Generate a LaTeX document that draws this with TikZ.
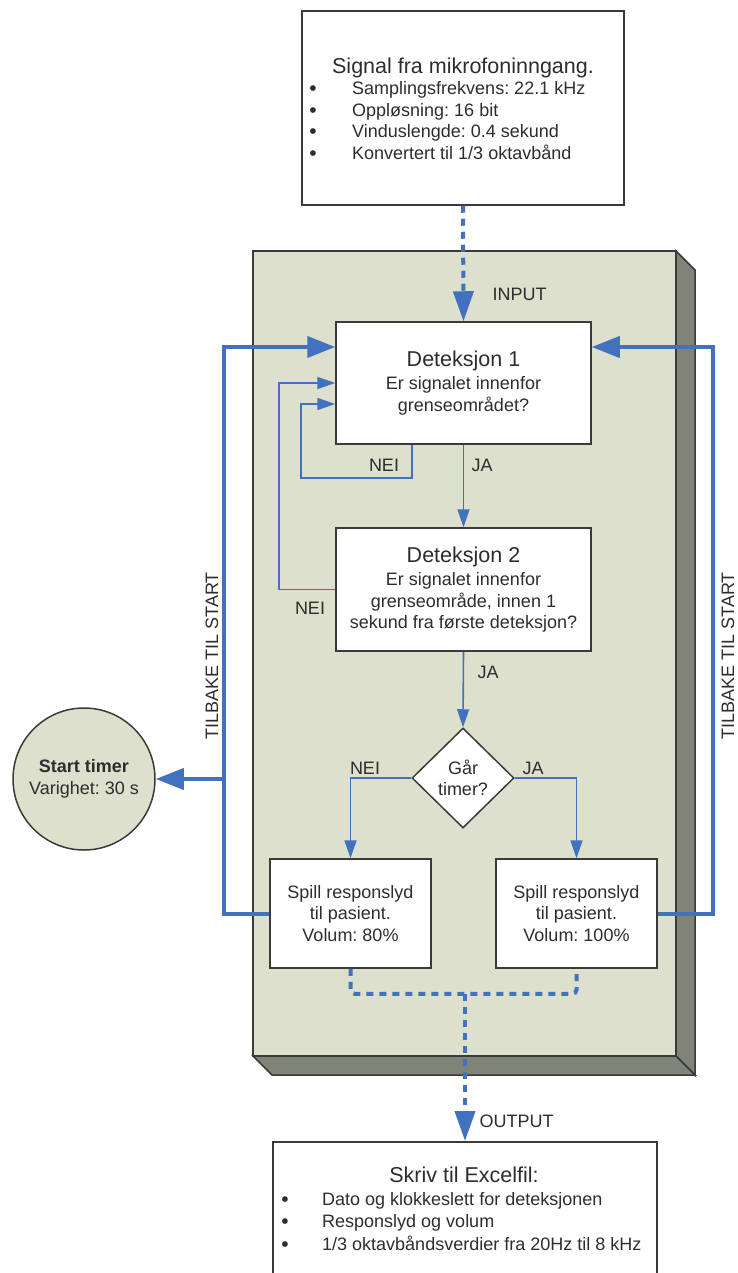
\documentclass[tikz,border=0pt]{standalone}
\usepackage{fontspec}
\setmainfont{Liberation Sans}
\usetikzlibrary{arrows.meta,shapes.geometric}

\definecolor{flowblue}{RGB}{66,113,192}
\definecolor{panelgreen}{RGB}{220,224,204}
\definecolor{paneldark}{RGB}{128,131,120}
\definecolor{boxline}{RGB}{58,58,58}
\definecolor{txtgray}{RGB}{45,45,45}

\newcommand{\flowtitlefont}{\fontsize{21.5}{25}\selectfont}
\frenchspacing

\begin{document}
\begin{tikzpicture}[x=1pt, y=-1pt,
  every node/.style={text=txtgray, font=\fontsize{18}{21.5}\selectfont},
  flowbox/.style={draw=boxline, line width=1.5pt, fill=white, align=center, inner sep=0pt},
  flowdot/.style={anchor=base, inner sep=0pt, font=\fontsize{21}{21}\selectfont},
  listtext/.style={anchor=base west, inner sep=0pt},
  backline/.style={flowblue, line width=4pt},
  bigtip/.style={-{Triangle[length=28pt,width=21pt]}},
  thinline/.style={flowblue, line width=1.6pt, -{Triangle[length=18pt,width=12pt]}},
  ioline/.style={flowblue, line width=4pt, dash pattern=on 7pt off 6pt}]

\useasboundingbox (0,0) rectangle (737,1273);

% panel
\begin{scope}[draw=boxline, line width=1.5pt]
\filldraw[fill=paneldark] (676,251) -- (695,270) -- (695,1075) -- (676,1056) -- cycle;
\filldraw[fill=paneldark] (253,1056) -- (676,1056) -- (695,1075) -- (272,1075) -- cycle;
\filldraw[fill=panelgreen] (253,251) rectangle (676,1056);
\end{scope}

% input box
\node[flowbox, minimum width=322pt, minimum height=194pt] (signal) at (463,108) {};
\node[anchor=base] (signaltitle) at (463,74) {\flowtitlefont Signal fra mikrofoninngang.};
\node[flowdot] (sb1) at (313,96) {\textbullet};
\node[flowdot] (sb2) at (313,118) {\textbullet};
\node[flowdot] (sb3) at (313,139) {\textbullet};
\node[flowdot] (sb4) at (313,161) {\textbullet};
\node[listtext] (st1) at (352,95) {Samplingsfrekvens: 22.1 kHz};
\node[listtext] (st2) at (352,117) {Oppløsning: 16 bit};
\node[listtext] (st3) at (352,138) {Vinduslengde: 0.4 sekund};
\node[listtext] (st4) at (352,160) {Konvertert til 1/3 oktavbånd};

% steps
\node[flowbox, minimum width=255pt, minimum height=122pt] (det1) at (463.5,383)
  {{\flowtitlefont Deteksjon 1}\\[2pt] Er signalet innenfor\\ grenseområdet?};
\node[flowbox, minimum width=255pt, minimum height=123pt] (det2) at (463.5,589.5)
  {{\flowtitlefont Deteksjon 2}\\[2pt] Er signalet innenfor\\ grenseområde, innen 1\\ sekund fra første deteksjon?};
\node[flowbox, diamond, minimum width=102pt, minimum height=100pt] (gaar) at (463,778) {Går\\ timer?};
\node[flowbox, minimum width=161pt, minimum height=109pt] (vol80) at (350.5,913.5)
  {Spill responslyd\\ til pasient.\\ Volum: 80\%};
\node[flowbox, minimum width=161pt, minimum height=109pt] (vol100) at (576.5,913.5)
  {Spill responslyd\\ til pasient.\\ Volum: 100\%};

% timer
\node[circle, draw=boxline, line width=1.5pt, fill=panelgreen, minimum size=142pt, inner sep=0pt, align=center] (timer) at (84,779)
  {\textbf{Start timer}\\ Varighet: 30 s};

% output box
\node[flowbox, minimum width=384pt, minimum height=170pt, anchor=north] (excel) at (465,1141) {};
\node[anchor=base] (exceltitle) at (464,1182) {\flowtitlefont Skriv til Excelfil:};
\node[flowdot] (eb1) at (285,1206) {\textbullet};
\node[flowdot] (eb2) at (285,1228) {\textbullet};
\node[flowdot] (eb3) at (285,1251) {\textbullet};
\node[listtext] (et1) at (322,1205) {Dato og klokkeslett for deteksjonen};
\node[listtext] (et2) at (322,1227) {Responslyd og volum};
\node[listtext] (et3) at (322,1250) {1/3 oktavbåndsverdier fra 20Hz til 8 kHz};

% labels
\node (input) at (519.5,294.5) {INPUT};
\node (output) at (516.5,1121.5) {OUTPUT};
\node (nei1) at (384,465) {NEI};
\node (ja1) at (482,465) {JA};
\node (nei2) at (310,608) {NEI};
\node (ja2) at (488,672) {JA};
\node (nei3) at (365,768) {NEI};
\node (ja3) at (533,768) {JA};
\node[rotate=90, inner sep=0pt] (backleft) at (212,656) {TILBAKE TIL START};
\node[rotate=90, inner sep=0pt] (backright) at (728,656) {TILBAKE TIL START};

\coordinate (lrail) at (224,779);
\coordinate (rrail) at (713,779);

% connectors
\draw[ioline, -{Triangle[length=30pt,width=20pt]}] (signal.south) -- (det1.north); %signal-det1
\draw[thinline] (det1.south) -- (det2.north); %det1-det2
\draw[thinline] ([xshift=-51.5pt]det1.south) -- ++(0,33) -| ([xshift=-34pt,yshift=-21pt]det1.west) -- ([yshift=-21pt]det1.west); %det1-det1
\draw[thinline] (det2.west) -| ([xshift=-56pt]det1.west) -- (det1.west); %det2-det1
\draw[thinline] (det2.south) -- (gaar.north); %det2-gaar
\draw[thinline] (gaar.west) -| (vol80.north); %gaar-vol80
\draw[thinline] (gaar.east) -| (vol100.north); %gaar-vol100

\draw[backline, bigtip] (vol80.west) -| (lrail) |- ([yshift=36pt]det1.west); %vol80-det1
\draw[backline, bigtip] (lrail) -- (timer.east); %vol80-timer
\draw[backline, bigtip] (vol100.east) -| (rrail) |- ([yshift=36pt]det1.east); %vol100-det1

\draw[ioline, rounded corners=4pt] (vol80.south) -- ++(0,25) coordinate (joinl) -| (vol100.south); %vol80-vol100
\draw[ioline, -{Triangle[length=30pt,width=20pt]}] (joinl -| excel.north) -- (excel.north); %join-excel

\end{tikzpicture}
\end{document}
